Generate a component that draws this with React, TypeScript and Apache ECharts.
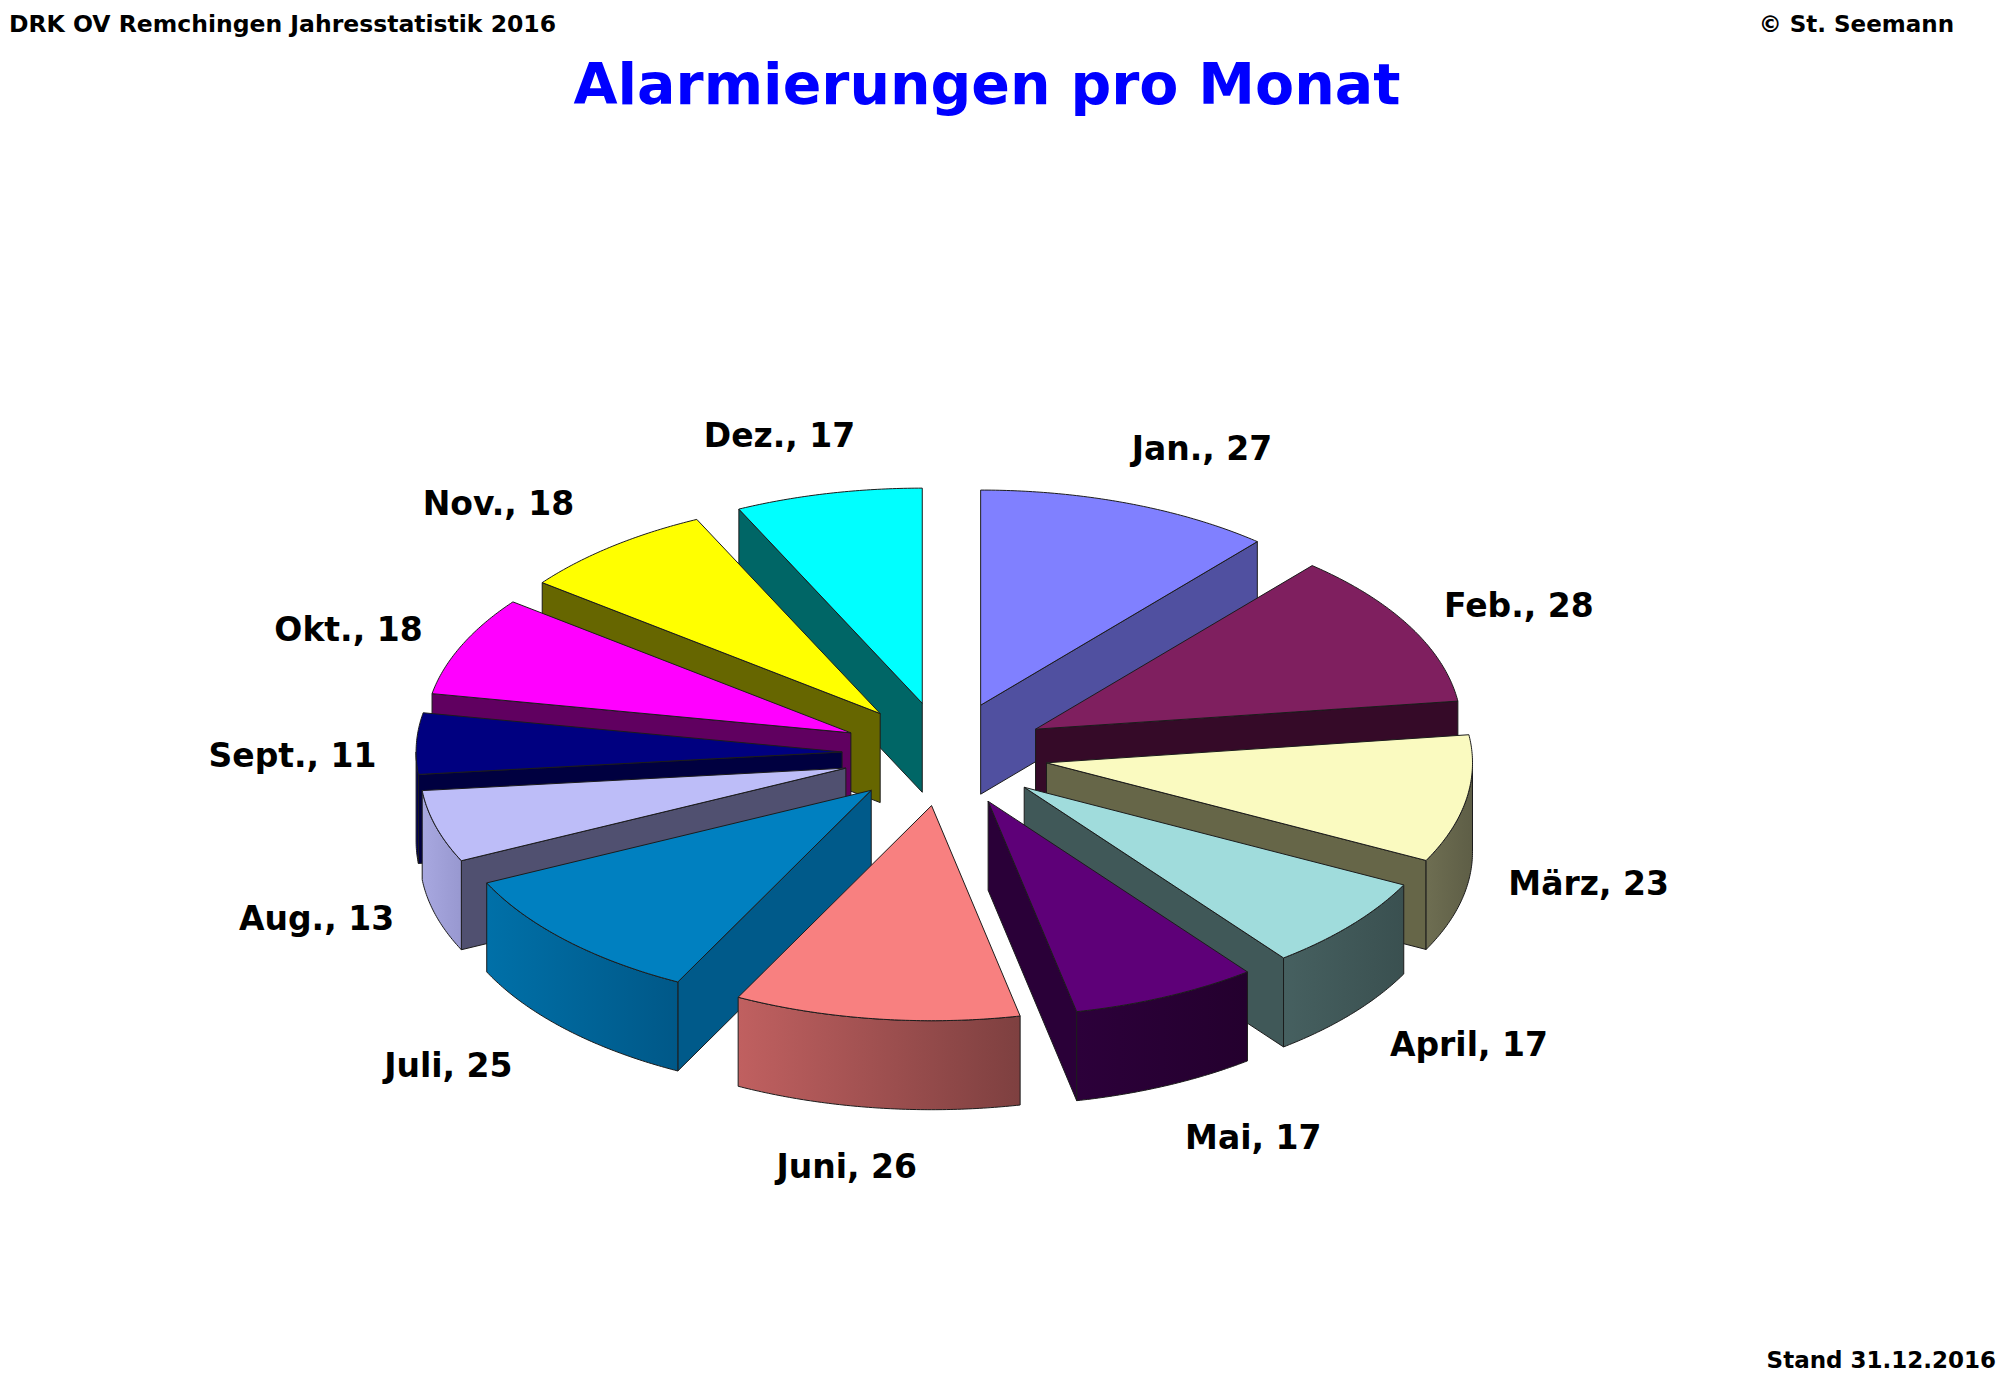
import React, { useEffect, useRef } from 'react';
import * as echarts from 'echarts';

// ---- data ----
const months = ['Jan.', 'Feb.', 'März', 'April', 'Mai', 'Juni', 'Juli', 'Aug.', 'Sept.', 'Okt.', 'Nov.', 'Dez.'];
const alarms = [27, 28, 23, 17, 17, 26, 25, 13, 11, 18, 18, 17];
const topColors = ['#8080FF', '#7F1F5F', '#FAFAC0', '#A0DCDC', '#5E0078', '#F88080', '#0080C0', '#BDBDF8', '#000080', '#FF00FF', '#FFFF00', '#00FFFF'];
const faceColors = ['#5050A0', '#350A28', '#666648', '#405858', '#2A0038', '#A05050', '#005A8A', '#505070', '#000040', '#600060', '#666600', '#006666'];
const wallLeftColors = ['#5050A0', '#350A28', '#6E6E52', '#466060', '#2C003A', '#C06060', '#0070A8', '#A8A8E0', '#000068', '#800080', '#808000', '#008080'];
const wallRightColors = ['#404080', '#2A0820', '#5E5E46', '#3A5050', '#24002E', '#7E4040', '#005888', '#9898D0', '#000050', '#600060', '#666600', '#006666'];

const headerLeft = 'DRK OV Remchingen Jahresstatistik 2016';
const headerRight = '© St. Seemann';
const titleText = 'Alarmierungen pro Monat';
const footerText = 'Stand 31.12.2016';

// ---- layout ----
const CX = 945;
const CY = 754;
const R = 426;
const TILT = 0.505;
const EXPL = 103;
const DEPTH = 89;
const FONT = "'Comic Sans MS', 'DejaVu Sans', sans-serif";

const rad = (d: number) => (d * Math.PI) / 180;
const total = alarms.reduce((s, v) => s + v, 0);
const starts: number[] = [];
{
  let acc = 0;
  alarms.forEach((v) => {
    starts.push((acc / total) * 360);
    acc += v;
  });
}
const mids = alarms.map((v, i) => starts[i] + (v / total) * 180);
const rank: number[] = [];
mids
  .map((m, i) => ({ i, k: -Math.cos(rad(m)) }))
  .sort((a, b) => a.k - b.k)
  .forEach((o, r) => (rank[o.i] = r));

const edge = { stroke: '#1c1c1c', lineWidth: 1, lineJoin: 'round' };

function renderItem(params: any, api: any) {
  const i = params.dataIndex;
  const v = api.value(0) as number;
  const a0 = starts[i];
  const a1 = a0 + (v / total) * 360;
  const m = (a0 + a1) / 2;
  const ox = EXPL * Math.sin(rad(m));
  const oy = -EXPL * TILT * Math.cos(rad(m));
  const P = (r: number, a: number, h = 0) => [
    CX + ox + r * Math.sin(rad(a)),
    CY + oy - r * TILT * Math.cos(rad(a)) + h,
  ];
  const arc = (from: number, to: number, h: number) => {
    const n = Math.max(2, Math.ceil(Math.abs(to - from) / 0.5));
    const pts: number[][] = [];
    for (let k = 0; k <= n; k++) pts.push(P(R, from + ((to - from) * k) / n, h));
    return pts;
  };
  const base = rank[i] * 10;
  const children: any[] = [];
  if (Math.sin(rad(a0)) < 0) {
    children.push({
      type: 'polygon',
      z2: base + 1,
      shape: { points: [P(0, a0), P(R, a0), P(R, a0, DEPTH), P(0, a0, DEPTH)] },
      style: { fill: faceColors[i], ...edge },
    });
  }
  if (Math.sin(rad(a1)) > 0) {
    children.push({
      type: 'polygon',
      z2: base + 1,
      shape: { points: [P(0, a1), P(R, a1), P(R, a1, DEPTH), P(0, a1, DEPTH)] },
      style: { fill: faceColors[i], ...edge },
    });
  }
  const lo = Math.max(a0, 90);
  const hi = Math.min(a1, 270);
  if (hi > lo) {
    children.push({
      type: 'polygon',
      z2: base + 1,
      shape: { points: arc(lo, hi, 0).concat(arc(hi, lo, DEPTH)) },
      style: {
        fill: {
          type: 'linear', x: 0, y: 0, x2: 1, y2: 0,
          colorStops: [
            { offset: 0, color: wallLeftColors[i] },
            { offset: 1, color: wallRightColors[i] },
          ],
        },
        ...edge,
      },
    });
  }
  children.push({
    type: 'polygon',
    z2: base + 2,
    shape: { points: [P(0, a0)].concat(arc(a0, a1, 0)) },
    style: { fill: topColors[i], ...edge },
  });
  const s = Math.sin(rad(m));
  const c = Math.cos(rad(m));
  const lx = CX + (653 + 204 * Math.max(0, Math.abs(c) - 0.5)) * s;
  const ly = c > 0 ? CY + 15 - 342 * c : CY + 71 - 344 * c;
  children.push({
    type: 'text',
    z2: 500,
    x: lx,
    y: ly,
    style: {
      text: `${months[i]}, ${v}`,
      fill: '#000',
      fontSize: 33,
      fontWeight: 'bold',
      fontFamily: FONT,
      align: 'center',
      verticalAlign: 'middle',
    },
  });
  return { type: 'group', children };
}

export default function App() {
  const ref = useRef<HTMLDivElement>(null);
  useEffect(() => {
    const chart = echarts.init(ref.current!, null, { renderer: 'svg' });
    chart.setOption({
      animation: false,
      backgroundColor: '#ffffff',
      graphic: [
        {
          type: 'text', left: 9, top: 12,
          style: { text: headerLeft, fill: '#000', fontSize: 23.5, fontWeight: 'bold', fontFamily: FONT },
        },
        {
          type: 'text', right: 46, top: 12,
          style: { text: headerRight, fill: '#000', fontSize: 23, fontWeight: 'bold', fontFamily: FONT },
        },
        {
          type: 'text', x: 987, y: 84,
          style: {
            text: titleText, fill: '#0000FF', fontSize: 57, fontWeight: 'bold', fontFamily: FONT,
            align: 'center', verticalAlign: 'middle',
          },
        },
        {
          type: 'text', right: 4, top: 1348,
          style: { text: footerText, fill: '#000', fontSize: 23, fontWeight: 'bold', fontFamily: FONT },
        },
      ],
      series: [
        {
          type: 'custom',
          coordinateSystem: 'none',
          silent: true,
          renderItem,
          data: alarms.map((v, i) => ({ name: months[i], value: v })),
        },
      ],
    });
    return () => chart.dispose();
  }, []);
  return (
    <div
      ref={ref}
      style={{ position: 'absolute', left: 0, top: 0, width: 2000, height: 1387, background: '#fff' }}
    />
  );
}
